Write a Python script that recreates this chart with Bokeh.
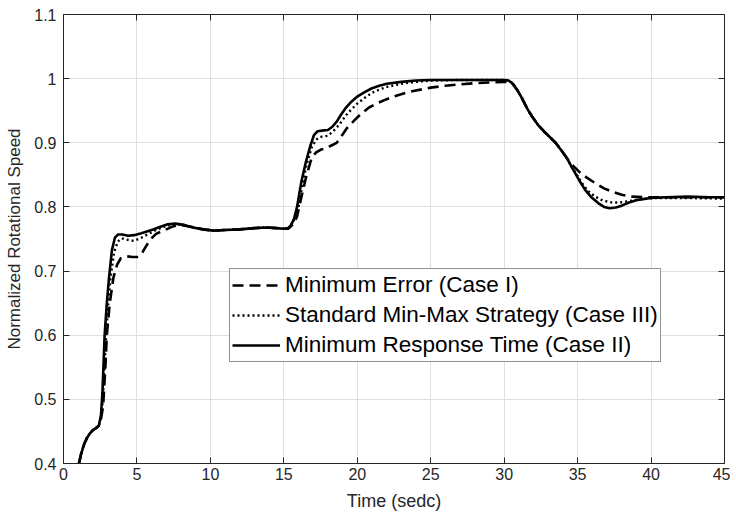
from bokeh.plotting import figure
from bokeh.models import Legend, LegendItem, LinearAxis, FixedTicker, Range1d
from bokeh.embed import file_html
from bokeh.resources import INLINE

# ---------------- data ----------------
x_ticks = [0, 5, 10, 15, 20, 25, 30, 35, 40, 45]
x_tick_labels = ["0", "5", "10", "15", "20", "25", "30", "35", "40", "45"]
y_ticks = [0.4, 0.5, 0.6, 0.7, 0.8, 0.9, 1.0, 1.1]
y_tick_labels = ["0.4", "0.5", "0.6", "0.7", "0.8", "0.9", "1", "1.1"]

# Minimum Response Time (Case II) - solid
t_case2 = [1.05, 1.2, 1.4, 1.6, 1.8, 2.0, 2.2, 2.4, 2.55, 2.65, 2.8, 2.95, 3.1, 3.3, 3.5, 3.7,
           4.0, 4.4, 4.8, 5.3, 6.0, 6.6, 7.1, 7.6, 8.2, 8.8, 9.5, 10.2, 11.0, 12.0, 13.0, 13.8,
           14.5, 15.0, 15.3, 15.5, 15.7, 15.9, 16.2, 16.5, 16.8, 17.05, 17.3, 17.6, 18.0, 18.3,
           18.6, 18.9, 19.2, 19.6, 20.0, 20.5, 21.0, 21.5, 22.0, 23.0, 24.0, 25.0, 27.0, 29.0,
           30.0, 30.3, 30.6, 30.9, 31.2, 31.6, 31.9, 32.3, 32.7, 33.1, 33.5, 33.9, 34.3, 34.6,
           34.9, 35.2, 35.5, 35.9, 36.4, 36.8, 37.2, 37.6, 38.0, 38.5, 39.1, 40.0, 41.0, 42.5,
           44.0, 45.0]
v_case2 = [0.400, 0.415, 0.430, 0.440, 0.447, 0.452, 0.455, 0.459, 0.475, 0.510, 0.600, 0.650,
           0.690, 0.733, 0.752, 0.757, 0.757, 0.755, 0.756, 0.759, 0.764, 0.769, 0.773, 0.774,
           0.772, 0.768, 0.765, 0.763, 0.764, 0.765, 0.767, 0.768, 0.767, 0.766, 0.767, 0.772,
           0.782, 0.800, 0.840, 0.870, 0.895, 0.912, 0.918, 0.919, 0.920, 0.925, 0.933, 0.944,
           0.954, 0.964, 0.972, 0.979, 0.985, 0.989, 0.992, 0.995, 0.997, 0.998, 0.998, 0.998,
           0.998, 0.997, 0.992, 0.982, 0.970, 0.952, 0.941, 0.928, 0.918, 0.909, 0.900, 0.888,
           0.875, 0.862, 0.850, 0.838, 0.827, 0.816, 0.806, 0.800, 0.798, 0.799, 0.802, 0.807,
           0.811, 0.814, 0.815, 0.816, 0.815, 0.815]

# Standard Min-Max Strategy (Case III) - dotted
t_case3 = [1.05, 1.2, 1.4, 1.6, 1.8, 2.0, 2.2, 2.4, 2.6, 2.75, 2.9, 3.05, 3.2, 3.45, 3.7, 3.95,
           4.3, 4.8, 5.3, 5.8, 6.3, 6.8, 7.3, 7.6, 8.2, 8.8, 9.5, 10.2, 11.0, 12.0, 13.0, 13.8,
           14.5, 15.0, 15.3, 15.6, 15.8, 16.0, 16.3, 16.6, 16.9, 17.2, 17.5, 18.0, 18.4, 18.8,
           19.2, 19.6, 20.0, 20.5, 21.0, 21.5, 22.0, 23.0, 24.0, 25.0, 27.0, 29.0, 30.0, 30.3,
           30.6, 30.9, 31.2, 31.6, 31.9, 32.3, 32.7, 33.1, 33.5, 33.9, 34.3, 34.6, 34.9, 35.3,
           35.7, 36.2, 36.7, 37.3, 37.9, 38.5, 39.0, 39.6, 40.5, 42.0, 45.0]
v_case3 = [0.400, 0.415, 0.430, 0.440, 0.447, 0.452, 0.455, 0.459, 0.475, 0.530, 0.600, 0.650,
           0.690, 0.730, 0.746, 0.751, 0.749, 0.747, 0.752, 0.758, 0.764, 0.769, 0.772, 0.773,
           0.772, 0.768, 0.765, 0.763, 0.764, 0.765, 0.767, 0.768, 0.767, 0.766, 0.767, 0.775,
           0.785, 0.800, 0.840, 0.870, 0.893, 0.905, 0.909, 0.911, 0.919, 0.929, 0.942, 0.952,
           0.961, 0.970, 0.978, 0.983, 0.987, 0.992, 0.995, 0.997, 0.998, 0.998, 0.998, 0.997,
           0.992, 0.982, 0.970, 0.952, 0.941, 0.928, 0.918, 0.909, 0.900, 0.888, 0.875, 0.862,
           0.852, 0.837, 0.825, 0.816, 0.810, 0.807, 0.807, 0.809, 0.811, 0.813, 0.814, 0.814,
           0.813]

# Minimum Error (Case I) - dashed
t_case1 = [1.05, 1.2, 1.4, 1.6, 1.8, 2.0, 2.2, 2.4, 2.5, 2.7, 2.85, 2.95, 3.15, 3.4, 3.65, 3.9,
           4.3, 4.7, 5.1, 5.35, 5.6, 5.9, 6.3, 6.9, 7.5, 7.9, 8.5, 9.5, 10.2, 11.0, 12.0, 13.0,
           13.8, 14.5, 15.0, 15.3, 15.6, 15.9, 16.1, 16.5, 16.9, 17.2, 17.5, 18.0, 18.6, 19.0,
           19.3, 19.8, 20.3, 20.8, 21.4, 22.0, 22.6, 23.3, 23.9, 25.0, 26.0, 27.0, 28.0, 29.0,
           30.0, 30.3, 30.6, 30.9, 31.2, 31.6, 31.9, 32.3, 32.7, 33.1, 33.5, 33.9, 34.3, 34.7,
           35.1, 35.6, 36.2, 36.8, 37.3, 38.0, 38.7, 39.8, 41.0, 45.0]
v_case1 = [0.400, 0.415, 0.430, 0.440, 0.447, 0.452, 0.455, 0.459, 0.462, 0.490, 0.550, 0.600,
           0.650, 0.690, 0.710, 0.720, 0.723, 0.722, 0.722, 0.728, 0.738, 0.749, 0.758, 0.764,
           0.770, 0.772, 0.770, 0.765, 0.763, 0.764, 0.765, 0.767, 0.768, 0.767, 0.766, 0.766,
           0.772, 0.785, 0.806, 0.845, 0.877, 0.885, 0.889, 0.893, 0.900, 0.913, 0.923, 0.935,
           0.946, 0.955, 0.962, 0.968, 0.973, 0.978, 0.981, 0.986, 0.989, 0.991, 0.993, 0.994,
           0.995, 0.995, 0.991, 0.982, 0.970, 0.952, 0.941, 0.928, 0.918, 0.909, 0.900, 0.888,
           0.875, 0.864, 0.855, 0.846, 0.837, 0.829, 0.824, 0.819, 0.816, 0.815, 0.815, 0.815]

labels = ["Minimum Error (Case I)", "Standard Min-Max Strategy (Case III)",
          "Minimum Response Time (Case II)"]

# ---------------- figure ----------------
FONT = "Liberation Sans"
TXT = "#262626"

p = figure(frame_width=661, frame_height=449,
           x_range=Range1d(0, 45), y_range=Range1d(0.4, 1.1),
           output_backend="svg", toolbar_location=None,
           min_border_left=63, min_border_top=14, min_border_right=6, min_border_bottom=44,
           background_fill_color="white", border_fill_color="white")
p.outline_line_color = TXT

xt = FixedTicker(ticks=x_ticks)
yt = FixedTicker(ticks=y_ticks)

for ax in p.xaxis:
    ax.ticker = xt
    ax.major_label_overrides = {t: s for t, s in zip(x_ticks, x_tick_labels)}
    ax.axis_label = "Time (sedc)"
for ax in p.yaxis:
    ax.ticker = yt
    ax.major_label_overrides = {t: s for t, s in zip(y_ticks, y_tick_labels)}
    ax.axis_label = "Normalized Rotational Speed"

for ax in list(p.xaxis) + list(p.yaxis):
    ax.major_tick_in = 6
    ax.major_tick_out = 0
    ax.minor_tick_line_color = None
    ax.axis_line_color = TXT
    ax.major_tick_line_color = TXT
    ax.major_label_text_font = FONT
    ax.major_label_text_font_size = "16px"
    ax.major_label_text_color = TXT
    ax.axis_label_text_font = FONT
    ax.axis_label_text_font_style = "normal"
    ax.axis_label_text_color = TXT
p.xaxis.axis_label_text_font_size = "18px"
p.yaxis.axis_label_text_font_size = "17px"
p.xaxis.major_label_standoff = 4
p.xaxis.axis_label_standoff = 8
p.yaxis.major_label_standoff = 7
p.yaxis.axis_label_standoff = 7

top_ax = LinearAxis(ticker=xt)
right_ax = LinearAxis(ticker=yt)
top_ax.major_label_overrides = {t: "" for t in x_ticks}
right_ax.major_label_overrides = {t: "" for t in y_ticks}
for ax in (top_ax, right_ax):
    ax.major_tick_in = 6
    ax.major_tick_out = 0
    ax.minor_tick_line_color = None
    ax.axis_line_color = TXT
    ax.major_tick_line_color = TXT
    ax.major_label_text_font_size = "1px"
    ax.major_label_standoff = 0
p.add_layout(top_ax, "above")
p.add_layout(right_ax, "right")

p.xgrid.ticker = xt
p.ygrid.ticker = yt
p.xgrid.grid_line_color = "#dfdfdf"
p.ygrid.grid_line_color = "#dfdfdf"

r1 = p.line(t_case1, v_case1, line_color="black", line_width=2.6, line_dash="11 6")
r3 = p.line(t_case3, v_case3, line_color="black", line_width=2.4, line_dash="2 3")
r2 = p.line(t_case2, v_case2, line_color="black", line_width=2.6)

legend = Legend(items=[LegendItem(label=labels[0], renderers=[r1]),
                       LegendItem(label=labels[1], renderers=[r3]),
                       LegendItem(label=labels[2], renderers=[r2])],
                location=(166, 101))
legend.border_line_color = TXT
legend.border_line_width = 1
legend.background_fill_color = "white"
legend.background_fill_alpha = 1
legend.glyph_width = 48
legend.glyph_height = 28
legend.label_height = 28
legend.label_width = 373
legend.label_standoff = 5
legend.spacing = 2
legend.padding = 2
legend.margin = 0
legend.label_text_font = FONT
legend.label_text_font_size = "22.5px"
legend.label_text_color = "black"
p.add_layout(legend)

open("out.html", "w").write(file_html(p, INLINE))
